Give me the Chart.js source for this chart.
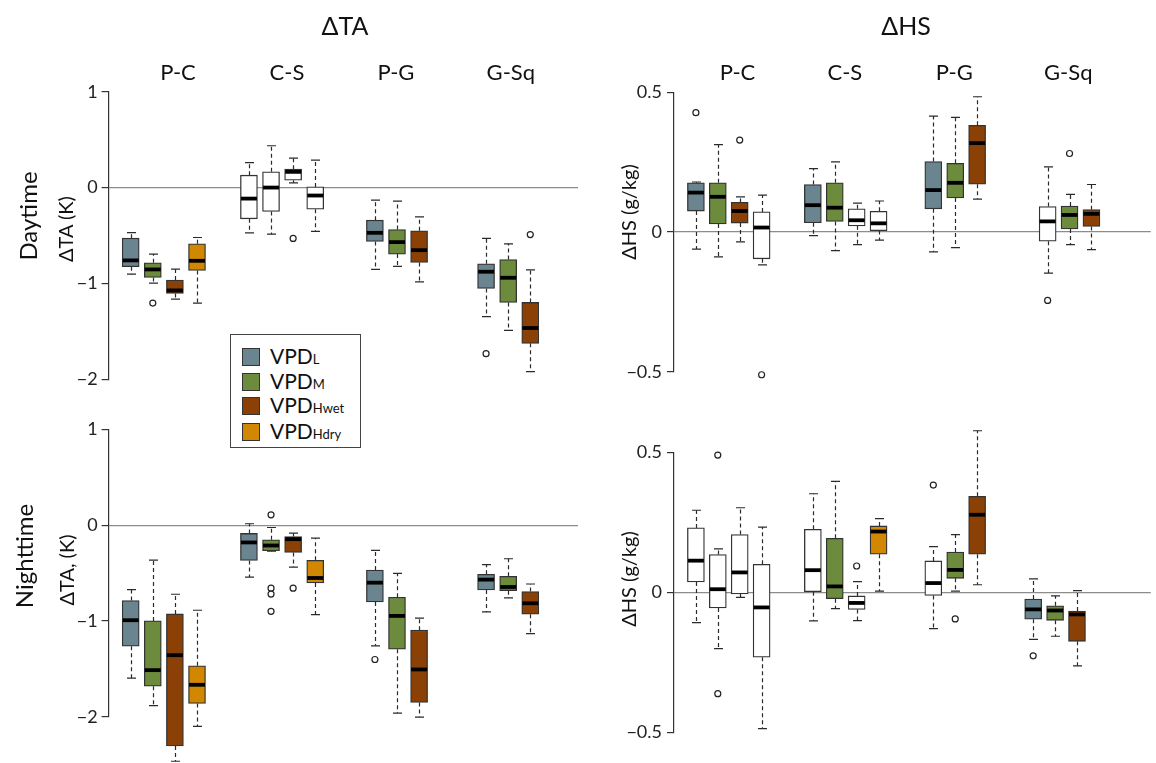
<!DOCTYPE html>
<html>
<head>
<meta charset="utf-8">
<script src="https://cdn.jsdelivr.net/npm/chart.js@4.4.1/dist/chart.umd.min.js"></script>
<style>
  html, body { margin: 0; padding: 0; background: #fff; }
  body { width: 1156px; height: 763px; position: relative; overflow: hidden; font-family: Lato, "Open Sans", sans-serif; color: #111; }
  .panel { position: absolute; left: 0; top: 0; width: 1156px; height: 763px; }
  .lbl { position: absolute; white-space: nowrap; transform: translate(-50%, -50%); line-height: 1; }
  .rot { transform: translate(-50%, -50%) rotate(-90deg); }
  #legend { position: absolute; left: 230px; top: 334px; width: 129px; height: 112px; border: 1.5px solid #444; background: #fff; z-index: 5; }
  #legend .row { position: absolute; left: 11px; height: 20px; font-size: 21px; line-height: 20px; white-space: nowrap; }
  #legend .sw { display: inline-block; width: 16px; height: 16px; border: 1.2px solid #333; vertical-align: -2px; margin-right: 10px; }
  #legend .s { font-size: 13px; }
</style>
</head>
<body>
<div class="panel"><canvas id="taDayChart"></canvas></div>
<div class="panel"><canvas id="hsDayChart"></canvas></div>
<div class="panel"><canvas id="taNightChart"></canvas></div>
<div class="panel"><canvas id="hsNightChart"></canvas></div>

<div class="lbl" style="left:345px; top:25px; font-size:25px;">ΔTA</div>
<div class="lbl" style="left:906px; top:25px; font-size:25px;">ΔHS</div>
<div class="lbl rot" style="left:28px; top:216px; font-size:24px;">Daytime</div>
<div class="lbl rot" style="left:65px; top:229px; font-size:20px;">ΔTA (K)</div>
<div class="lbl rot" style="left:24px; top:556px; font-size:24px;">Nighttime</div>
<div class="lbl rot" style="left:66px; top:570px; font-size:20px;">ΔTA, (K)</div>
<div class="lbl rot" style="left:628px; top:212px; font-size:20px;">ΔHS (g/kg)</div>
<div class="lbl rot" style="left:628px; top:579px; font-size:20px;">ΔHS (g/kg)</div>

<div id="legend">
  <div class="row" style="top:11px;"><span class="sw" style="background:#6a8590"></span>VPD<span class="s">L</span></div>
  <div class="row" style="top:36px;"><span class="sw" style="background:#6d8b3c"></span>VPD<span class="s">M</span></div>
  <div class="row" style="top:60px;"><span class="sw" style="background:#8b4105"></span>VPD<span class="s">Hwet</span></div>
  <div class="row" style="top:86px;"><span class="sw" style="background:#d18700"></span>VPD<span class="s">Hdry</span></div>
</div>

<script>
// groups and VPD classes; boxes run P-C(4), C-S(4), P-G(3), G-Sq(3)
const groups = ['P-C', 'C-S', 'P-G', 'G-Sq'];
const classNames = ['L', 'M', 'Hwet', 'Hdry'];
const boxGroup = [0, 0, 0, 0, 1, 1, 1, 1, 2, 2, 2, 3, 3, 3];
const boxClass = [0, 1, 2, 3, 0, 1, 2, 3, 0, 1, 2, 0, 1, 2];

const taTicks = [-2, -1, 0, 1];
const hsTicks = [-0.5, 0, 0.5];

// ΔTA daytime
const taDayHi  = [-0.469, -0.694, -0.851, -0.521, 0.261, 0.436, 0.307, 0.286, -0.132, -0.142, -0.306, -0.531, -0.587, -0.858];
const taDayQ3  = [-0.528, -0.785, -0.965, -0.587, 0.129, 0.164, 0.192, 0.007, -0.340, -0.438, -0.451, -0.795, -0.750, -1.198];
const taDayMed = [-0.760, -0.854, -1.073, -0.764, -0.115, 0.000, 0.164, -0.083, -0.472, -0.569, -0.653, -0.878, -0.941, -1.465];
const taDayQ1  = [-0.826, -0.938, -1.104, -0.865, -0.326, -0.250, 0.077, -0.226, -0.563, -0.694, -0.781, -1.052, -1.198, -1.625];
const taDayLo  = [-0.903, -0.997, -1.163, -1.205, -0.472, -0.486, 0.049, -0.458, -0.854, -0.823, -0.983, -1.347, -1.490, -1.920];
const taDayFilled = [1, 1, 1, 1, 0, 0, 0, 0, 1, 1, 1, 1, 1, 1];
const taDayOut = [[1, -1.205], [6, -0.531], [11, -1.733], [13, -0.490]];

// ΔTA nighttime
const taNightHi  = [-0.674, -0.365, -0.722, -0.889, 0.014, -0.025, -0.084, -0.135, -0.264, -0.503, -0.972, -0.413, -0.351, -0.615];
const taNightQ3  = [-0.788, -1.000, -0.927, -1.469, -0.087, -0.153, -0.119, -0.368, -0.469, -0.753, -1.097, -0.514, -0.535, -0.694];
const taNightMed = [-0.993, -1.514, -1.358, -1.667, -0.181, -0.213, -0.147, -0.552, -0.601, -0.948, -1.507, -0.569, -0.646, -0.816];
const taNightQ1  = [-1.264, -1.681, -2.306, -1.861, -0.369, -0.268, -0.286, -0.604, -0.802, -1.295, -1.851, -0.677, -0.684, -0.931];
const taNightLo  = [-1.597, -1.885, -2.465, -2.101, -0.543, -0.272, -0.438, -0.934, -1.260, -1.962, -2.004, -0.906, -0.760, -1.132];
const taNightFilled = [1, 1, 1, 1, 1, 1, 1, 1, 1, 1, 1, 1, 1, 1];
const taNightOut = [[5, 0.107], [5, -0.658], [5, -0.720], [5, -0.900], [6, -0.658], [8, -1.403]];

// ΔHS daytime
const hsDayHi  = [0.179, 0.313, 0.126, 0.132, 0.227, 0.251, 0.103, 0.111, 0.415, 0.410, 0.484, 0.233, 0.135, 0.170];
const hsDayQ3  = [0.176, 0.176, 0.106, 0.072, 0.170, 0.176, 0.083, 0.074, 0.252, 0.246, 0.382, 0.091, 0.093, 0.080];
const hsDayMed = [0.141, 0.126, 0.075, 0.016, 0.096, 0.087, 0.042, 0.031, 0.150, 0.176, 0.318, 0.038, 0.061, 0.065];
const hsDayQ1  = [0.075, 0.029, 0.032, -0.096, 0.033, 0.038, 0.022, 0.005, 0.083, 0.122, 0.171, -0.033, 0.011, 0.020];
const hsDayLo  = [-0.061, -0.089, -0.035, -0.118, -0.013, -0.067, -0.045, -0.029, -0.071, -0.056, 0.118, -0.147, -0.045, -0.063];
const hsDayFilled = [1, 1, 1, 0, 1, 1, 0, 0, 1, 1, 1, 0, 1, 1];
const hsDayOut = [[0, 0.427], [2, 0.329], [3, -0.511], [8, 0.523], [11, -0.245], [12, 0.281]];

// ΔHS nighttime
const hsNightHi  = [0.293, 0.155, 0.302, 0.233, 0.352, 0.396, 0.038, 0.263, 0.163, 0.206, 0.577, 0.048, -0.013, 0.006];
const hsNightQ3  = [0.230, 0.135, 0.206, 0.100, 0.225, 0.193, -0.013, 0.237, 0.112, 0.144, 0.343, -0.024, -0.048, -0.067];
const hsNightMed = [0.113, 0.011, 0.071, -0.054, 0.079, 0.021, -0.038, 0.217, 0.033, 0.080, 0.277, -0.061, -0.065, -0.079];
const hsNightQ1  = [0.037, -0.056, -0.006, -0.232, 0.002, -0.023, -0.061, 0.136, -0.011, 0.050, 0.136, -0.096, -0.100, -0.175];
const hsNightLo  = [-0.108, -0.201, -0.018, -0.487, -0.102, -0.058, -0.101, 0.004, -0.130, 0.004, 0.027, -0.168, -0.157, -0.263];
const hsNightFilled = [0, 0, 0, 0, 0, 1, 0, 1, 0, 1, 1, 1, 1, 1];
const hsNightOut = [[1, 0.490], [1, -0.362], [6, 0.094], [8, 0.383], [9, -0.095], [11, -0.227]];

const classColors = ['#6a8590', '#6d8b3c', '#8b4105', '#d18700'];
const fontFamily = 'Lato, "Open Sans", sans-serif';

function fmtTick(v) {
  return v < 0 ? '\u2212' + Math.abs(v) : String(v);
}

// whiskers, caps and medians drawn on the chart's own scales
function boxPlugin(st, pos) {
  return {
    id: 'boxWhiskers',
    beforeDatasetsDraw(chart) {
      const { ctx, scales: { x, y } } = chart;
      ctx.save();
      ctx.strokeStyle = '#2a2a2a';
      ctx.lineWidth = 1.2;
      pos.forEach((p, i) => {
        const cx = Math.round(x.getPixelForValue(p)) + 0.5;
        ctx.setLineDash([4, 3]);
        ctx.beginPath();
        ctx.moveTo(cx, y.getPixelForValue(st.q3[i]));
        ctx.lineTo(cx, y.getPixelForValue(st.hi[i]));
        ctx.moveTo(cx, y.getPixelForValue(st.q1[i]));
        ctx.lineTo(cx, y.getPixelForValue(st.lo[i]));
        ctx.stroke();
        ctx.setLineDash([]);
        ctx.beginPath();
        [st.hi[i], st.lo[i]].forEach(v => {
          const py = y.getPixelForValue(v);
          ctx.moveTo(cx - 4.5, py);
          ctx.lineTo(cx + 4.5, py);
        });
        ctx.stroke();
      });
      ctx.restore();
    },
    afterDatasetsDraw(chart) {
      const { ctx, scales: { x, y } } = chart;
      ctx.save();
      ctx.strokeStyle = '#000';
      ctx.lineWidth = 3.8;
      pos.forEach((p, i) => {
        const cx = x.getPixelForValue(p);
        const py = y.getPixelForValue(st.med[i]);
        ctx.beginPath();
        ctx.moveTo(cx - 8, py);
        ctx.lineTo(cx + 8, py);
        ctx.stroke();
      });
      ctx.restore();
    }
  };
}

function drawPanel(id, st, lay) {
  const pos = boxGroup.map((g, i) => lay.offsets[g] + boxClass[i]);
  const datasets = classNames.map((c, k) => {
    const idx = pos.map((p, i) => i).filter(i => boxClass[i] === k);
    return {
      type: 'bar',
      label: 'VPD' + c,
      data: idx.map(i => ({ x: pos[i], y: [st.q1[i], st.q3[i]] })),
      backgroundColor: idx.map(i => st.filled[i] ? classColors[k] : '#ffffff'),
      borderColor: '#333',
      borderWidth: 1.3,
      borderSkipped: false,
      grouped: false,
      barPercentage: 1,
      categoryPercentage: 1,
      maxBarThickness: 17,
      clip: false,
      order: 2
    };
  });
  datasets.push({
    type: 'scatter',
    label: 'outliers',
    data: st.out.map(([i, v]) => ({ x: pos[i], y: v })),
    pointRadius: 3,
    pointBorderWidth: 1.2,
    pointBorderColor: '#222',
    pointBackgroundColor: '#fff',
    clip: false,
    order: 1
  });

  new Chart(document.getElementById(id), {
    type: 'bar',
    data: { datasets },
    options: {
      responsive: true,
      maintainAspectRatio: false,
      animation: false,
      layout: { padding: lay.padding },
      plugins: { legend: { display: false }, tooltip: { enabled: false } },
      scales: {
        x: {
          type: 'linear',
          position: 'top',
          display: lay.showGroups,
          min: lay.xMin,
          max: lay.xMax,
          offset: false,
          afterBuildTicks: s => { s.ticks = lay.labelPos.map(v => ({ value: v })); },
          afterFit: s => { if (lay.showGroups) s.height = 40; },
          grid: { display: false, drawTicks: false },
          border: { display: false },
          ticks: {
            autoSkip: false, maxRotation: 0, padding: 6, color: '#111',
            font: { size: 22, family: fontFamily },
            callback: (v, i) => groups[i]
          }
        },
        y: {
          type: 'linear',
          min: lay.yMin,
          max: lay.yMax,
          afterBuildTicks: s => { s.ticks = lay.yTicks.map(v => ({ value: v })); },
          afterFit: s => { s.width = 60; },
          grid: {
            drawOnChartArea: true,
            color: c => (c.tick && c.tick.value === 0) ? '#8c8c8c' : 'rgba(0,0,0,0)',
            lineWidth: 1.2,
            tickColor: '#333',
            tickLength: 7
          },
          border: { display: true, color: '#333', width: 1.2 },
          ticks: {
            padding: lay.tickPad, color: '#222',
            font: { size: 18, family: fontFamily },
            callback: v => fmtTick(v)
          }
        }
      }
    },
    plugins: [boxPlugin(st, pos)]
  });
}

drawPanel('taDayChart',
  { hi: taDayHi, q3: taDayQ3, med: taDayMed, q1: taDayQ1, lo: taDayLo, filled: taDayFilled, out: taDayOut },
  { offsets: [0, 5.35, 11.05, 16.08], labelPos: [2.14, 7.07, 12.0, 17.2], showGroups: true,
    xMin: -1, xMax: 20.24, yMin: -2, yMax: 1, yTicks: taTicks, tickPad: 4,
    padding: { left: 48.6, right: 578, top: 51.7, bottom: 383.7 } });

drawPanel('taNightChart',
  { hi: taNightHi, q3: taNightQ3, med: taNightMed, q1: taNightQ1, lo: taNightLo, filled: taNightFilled, out: taNightOut },
  { offsets: [0, 5.35, 11.05, 16.08], labelPos: [2.14, 7.07, 12.0, 17.2], showGroups: false,
    xMin: -1, xMax: 20.24, yMin: -2, yMax: 1, yTicks: taTicks, tickPad: 4,
    padding: { left: 48.6, right: 578, top: 429.3, bottom: 46.3 } });

drawPanel('hsDayChart',
  { hi: hsDayHi, q3: hsDayQ3, med: hsDayMed, q1: hsDayQ1, lo: hsDayLo, filled: hsDayFilled, out: hsDayOut },
  { offsets: [0, 5.34, 10.84, 16.06], labelPos: [1.9, 6.8, 11.8, 17.0], showGroups: true,
    xMin: -1, xMax: 20.77, yMin: -0.5, yMax: 0.5, yTicks: hsTicks, tickPad: 5,
    padding: { left: 614, right: 1, top: 52.3, bottom: 391.3 } });

drawPanel('hsNightChart',
  { hi: hsNightHi, q3: hsNightQ3, med: hsNightMed, q1: hsNightQ1, lo: hsNightLo, filled: hsNightFilled, out: hsNightOut },
  { offsets: [0, 5.34, 10.84, 15.4], labelPos: [1.9, 6.8, 11.8, 17.0], showGroups: false,
    xMin: -1, xMax: 20.77, yMin: -0.5, yMax: 0.5, yTicks: hsTicks, tickPad: 5,
    padding: { left: 614, right: 1, top: 452.3, bottom: 30.7 } });
</script>
</body>
</html>
